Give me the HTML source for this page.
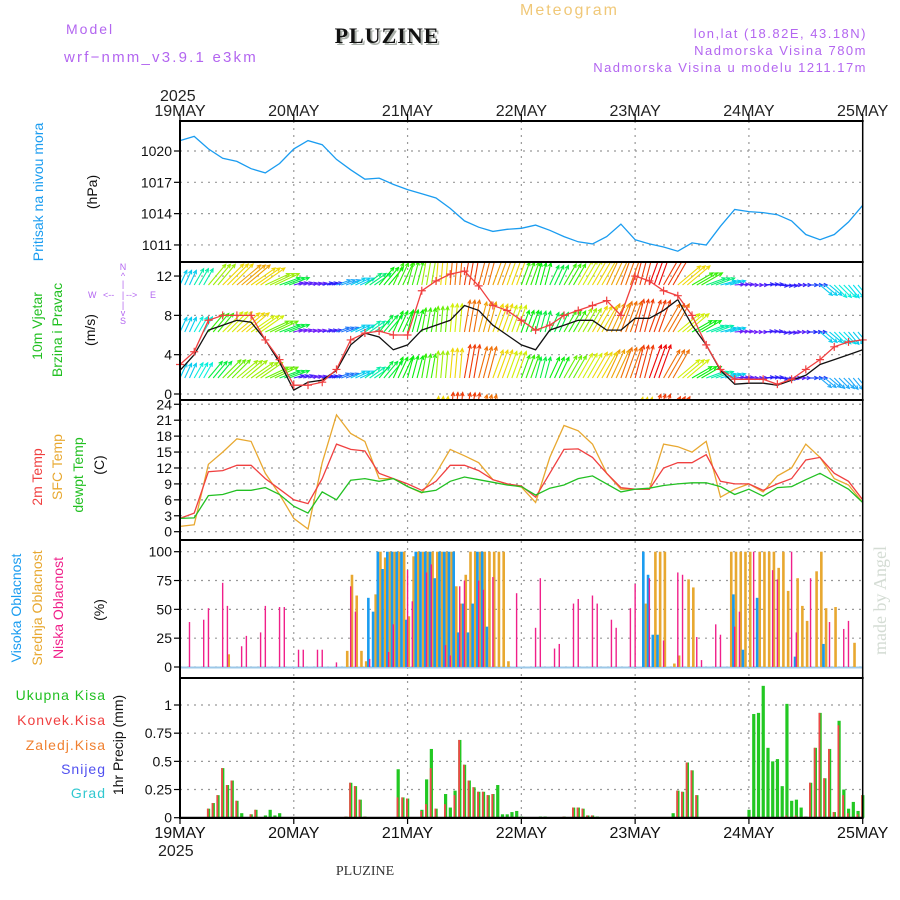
<!DOCTYPE html>
<html><head><meta charset="utf-8">
<style>
html,body{margin:0;padding:0;background:#fff;}
svg{display:block;}
text{font-family:"Liberation Sans",sans-serif;}
text.serif{font-family:"Liberation Serif",serif;}
</style></head>
<body>
<svg id="chart" width="900" height="900" viewBox="0 0 900 900" xmlns="http://www.w3.org/2000/svg">
<defs>
<clipPath id="windClip"><rect x="181" y="263" width="681" height="136"/></clipPath>
</defs>
<g id="header">
<text x="66" y="34" font-size="14" fill="#b366f0" letter-spacing="2">Model</text>
<text x="64" y="62" font-size="15" fill="#b366f0" letter-spacing="2.2">wrf−nmm_v3.9.1 e3km</text>
<text class="serif" x="389" y="45" font-size="22" font-weight="bold" fill="#aab0aa" text-anchor="middle" letter-spacing="1">PLUZINE</text>
<text class="serif" x="387" y="43" font-size="22" font-weight="bold" fill="#111" text-anchor="middle" letter-spacing="1">PLUZINE</text>
<text x="520" y="15" font-size="16" fill="#f0c878" letter-spacing="2">Meteogram</text>
<text x="867" y="38" font-size="13" fill="#b366f0" text-anchor="end" letter-spacing="1.5">lon,lat (18.82E, 43.18N)</text>
<text x="867" y="55" font-size="13" fill="#b366f0" text-anchor="end" letter-spacing="1.5">Nadmorska Visina 780m</text>
<text x="867" y="72" font-size="13" fill="#b366f0" text-anchor="end" letter-spacing="1.5">Nadmorska Visina u modelu 1211.17m</text>
<text x="160" y="101" font-size="16" fill="#222">2025</text>
<text x="158" y="856" font-size="16" fill="#222">2025</text>
<text class="serif" x="365" y="875" font-size="14" fill="#333" text-anchor="middle">PLUZINE</text>
<text class="serif" transform="translate(886,655) rotate(-90)" font-size="18" fill="#d4dcd4">made by Angel</text>
</g>
<g id="labels" font-size="14">
<text transform="translate(43,192) rotate(-90)" text-anchor="middle" fill="#1a9cf0">Pritisak na nivou mora</text>
<text transform="translate(97,192) rotate(-90)" text-anchor="middle" fill="#111">(hPa)</text>
<text transform="translate(42,326) rotate(-90)" text-anchor="middle" fill="#22c022">10m Vjetar</text>
<text transform="translate(62,330) rotate(-90)" text-anchor="middle" fill="#22c022">Brzina i Pravac</text>
<text transform="translate(95,330) rotate(-90)" text-anchor="middle" fill="#111">(m/s)</text>
<g fill="#b366f0" font-size="9">
<text x="123" y="270" text-anchor="middle">N</text>
<text x="123" y="279" text-anchor="middle">^</text>
<text x="123" y="287" text-anchor="middle">|</text>
<text x="88" y="298">W</text>
<text x="103" y="298">&lt;--</text>
<text x="123" y="298" text-anchor="middle">|</text>
<text x="126" y="298">--&gt;</text>
<text x="150" y="298">E</text>
<text x="123" y="308" text-anchor="middle">|</text>
<text x="123" y="316" text-anchor="middle">v</text>
<text x="123" y="324" text-anchor="middle">S</text>
</g>
<text transform="translate(42,477) rotate(-90)" text-anchor="middle" fill="#f04040">2m Temp</text>
<text transform="translate(62,467) rotate(-90)" text-anchor="middle" fill="#e8a830">SFC Temp</text>
<text transform="translate(83,475) rotate(-90)" text-anchor="middle" fill="#22c022">dewpt Temp</text>
<text transform="translate(104,465) rotate(-90)" text-anchor="middle" fill="#111">(C)</text>
<text transform="translate(21,608) rotate(-90)" text-anchor="middle" fill="#1a9cf0">Visoka Oblacnost</text>
<text transform="translate(42,608) rotate(-90)" text-anchor="middle" fill="#e8a830">Srednja Oblacnost</text>
<text transform="translate(63,608) rotate(-90)" text-anchor="middle" fill="#f0208a">Niska Oblacnost</text>
<text transform="translate(104,610) rotate(-90)" text-anchor="middle" fill="#111">(%)</text>
<text x="106" y="700" text-anchor="end" fill="#22c022" letter-spacing="1">Ukupna  Kisa</text>
<text x="106" y="725" text-anchor="end" fill="#f04040" letter-spacing="1">Konvek.Kisa</text>
<text x="106" y="750" text-anchor="end" fill="#f08030" letter-spacing="1">Zaledj.Kisa</text>
<text x="106" y="774" text-anchor="end" fill="#5050f0" letter-spacing="1">Snijeg</text>
<text x="106" y="798" text-anchor="end" fill="#30c8d0" letter-spacing="1">Grad</text>
<text transform="translate(123,745) rotate(-90)" text-anchor="middle" fill="#111">1hr Precip (mm)</text>
</g>
<g id="grid"></g>
<g id="marks"></g>
<g id="axes"></g>
</svg>
<script>
const dayLabels=["19MAY","20MAY","21MAY","22MAY","23MAY","24MAY","25MAY"];
const pressure=[1021.0,1021.4,1020.2,1019.3,1019.0,1018.3,1017.9,1018.8,1020.2,1021.0,1020.6,1019.2,1018.2,1017.3,1017.4,1016.8,1016.3,1015.9,1015.5,1014.5,1013.3,1012.7,1012.3,1012.5,1012.6,1012.9,1012.4,1011.8,1011.3,1011.1,1011.8,1013.0,1011.5,1011.1,1010.8,1010.4,1011.2,1011.0,1012.8,1014.4,1014.2,1014.1,1013.9,1013.3,1012.0,1011.5,1012.0,1013.2,1014.8];
const pressureTicks=[1011,1014,1017,1020];
const windSpeed=[2.4,4,6.5,7,7.5,7.3,5.5,3.2,0.4,1.2,1.4,2.4,5,6.2,5.8,4.5,5,6.5,7,7.5,9,8.5,7,6,5,4.5,6.5,7,7.5,7.5,6.5,6.5,7.7,7.7,8.5,9.6,7,5,2.4,1,1.1,1.1,0.9,1.4,1.9,3,3.5,4,4.5];
const windGust=[3,4.3,7.5,8,8,8,5.5,3.5,0.9,0.9,1.2,2.5,5.5,6.2,6.4,6,6,10.5,11.5,12.2,12.5,11,9,8.5,7.5,6.5,7,8,8.5,9,9.5,8,12,11.5,10.5,10,8,5,2.5,1.5,1.5,1.5,1,1.5,2.5,3.5,4.8,5.3,5.5];
const windTicks=[0,4,8,12];
const windDir=[65,60,50,45,40,35,25,20,15,12,12,20,25,35,50,65,75,80,85,85,80,75,70,70,70,75,65,60,60,60,65,70,75,70,60,40,30,20,15,5,0,5,-5,0,0,-40,-45,-50,-50];
const arrowTopSpd=[3,4,7,8,8.5,8,7,5,0.5,0.5,1,2.5,3,4.5,5.5,6,6,7,8,9,9.5,9,8.5,8,6,5.5,5,6,7.5,8,8.5,9,9.5,10,9.5,8,6,4.5,3,0.5,0.5,1,1,0.8,1.5,3,3.5,3.2,3];
const arrowMidSpd=[3,3.5,6,7.5,8,7.5,6.5,5,0.3,0.3,0.8,2,3,4,5,5.5,5.5,6,6.5,7.5,9,8.5,8,7.5,5.5,5,5,6,7,8,8.5,9,9.5,9.5,9,7.5,5.5,4,3,0.3,0.3,0.8,0.8,0.5,1.2,3,3.2,3,3];
const arrowBotSpd=[3,3.5,5,6.5,7,7,6.5,5,0.8,0.5,1,2,3,4,5,5.5,5.5,6,7,8,9.5,9,8,7.5,6,5,5.5,6.5,7.5,8,8.5,9,9.5,10,9,7.5,5.5,4,3,0.5,0.5,1,1,0.5,1.5,2.5,2.5,2.5,2.5];
const arrowLowSpd=[0,0,0,0,0,0,0,0,0,0,0,0,0,0,0,0,0,5,8,9.5,9.5,9,7,5,0,0,5,6,7,8,0,0,8,9.5,9.5,7,0,0,0,0,0,0,0,0,0,0,0,0,0];
const temp2m=[2.5,3.5,11.3,11.5,12.5,12.5,10,8,6,5.3,10,16.5,15.5,15.2,11,10,9,7.8,9.5,12.5,12.5,11.5,9.8,9,8.6,6.5,11,15.5,15.6,14,11,8.3,8,8,12,13,13,14.5,9.5,9,9,7.8,9,10,13.5,14,11,9.5,6];
const tempSfc=[1,1.3,12.7,15,17.5,17,11,7,2.5,0.5,13,22,18.5,17,10,10,8.5,7.3,11,15.5,14.3,13,9.8,9,8.4,5.5,14,20,19,16.5,11,8,8,8,16.5,16,15,17,6.5,8,9,7.5,10.5,12,16.5,14,10,8.8,5.5];
const tempDew=[2.5,2.6,6.8,7,7.8,7.8,8.3,7,4.8,3.5,7.5,6,9.7,10,9.5,10,8.5,7.4,7.8,9.5,10.3,9.8,9.3,8.8,8.5,6.9,8.2,8.8,10,10.5,9,7.5,8,8.2,8.7,9,9.2,9.2,8.5,7,8,6.7,8.3,8.5,9.8,11,9.5,8,5.5];
const tempTicks=[0,3,6,9,12,15,18,21,24];
const lowCloudHours=[2,5,6,9,10,13,14,17,18,21,22,25,26,29,30,33,36,37,40,44,45,48,49,52,53,56,57,59,60,63,64,66,71,75,76,79,80,83,84,87,88,91,92,95,96,99,102,105,106,109,110,113,114,117,118,121,125,126,129,130,133,137,140,141];
const lowCloudVals=[39,41,51,73,53,18,27,30,53,52,52,15,15,15,15,4,70,48,7,13,37,84,57,82,89,19,10,70,75,75,67,78,64,34,77,16,20,55,59,62,55,41,34,51,72,77,23,82,80,26,6,37,28,35,48,100,84,76,100,30,77,39,33,40];
const midCloudHours=[10,35,36,37,38,39,41,42,43,44,45,46,47,48,49,50,51,52,53,54,55,56,57,58,59,60,61,62,63,64,65,66,67,68,69,98,100,101,102,104,105,107,108,116,117,118,119,120,122,123,124,125,126,127,128,130,131,132,134,135,136,138,142];
const midCloudVals=[11,14,80,62,14,5,63,100,95,100,100,100,100,44,96,100,100,100,100,100,100,100,100,70,55,80,100,100,100,100,100,100,100,100,5,55,100,100,100,3,10,76,69,100,100,100,100,100,100,100,100,100,86,100,66,77,53,40,83,100,51,52,21];
const highCloudHours=[40,41,42,43,44,45,46,47,48,50,51,52,53,54,55,56,57,58,59,60,61,62,63,64,65,98,99,100,101,117,119,122,130,136];
const highCloudVals=[60,48,100,85,100,100,100,100,41,100,100,100,100,77,100,100,100,100,30,55,30,55,100,100,35,100,80,28,28,63,15,60,9,20];
const cloudTicks=[0,25,50,75,100];
const precipHours=[6,7,8,9,10,11,12,13,15,16,18,19,20,21,35,36,37,38,39,46,47,48,51,52,53,54,56,57,58,59,60,61,62,63,64,65,66,67,68,69,70,71,72,76,77,81,83,84,85,86,87,88,104,105,106,107,108,109,120,121,122,123,124,125,126,127,128,129,130,131,132,133,134,135,136,137,138,139,140,141,142,143,144];
const precipTotal=[.08,.13,.2,.44,.29,.33,.15,.04,.03,.07,.02,.07,.02,.04,.01,.31,.28,.16,.01,.43,.18,.17,.07,.34,.61,.08,.21,.09,.24,.69,.47,.33,.27,.23,.23,.2,.21,.29,.03,.03,.05,.06,.01,.01,.01,.01,.09,.09,.08,.02,.02,.01,.04,.24,.23,.49,.42,.2,.07,.92,.93,1.17,.62,.5,.52,.28,1.01,.15,.16,.09,.01,.31,.62,.93,.35,.61,.05,.86,.25,.08,.14,.06,.2];
const precipConv=[.08,.13,.2,.44,.29,.33,.15,0,.03,.07,0,0,0,0,.01,.31,.28,.16,.01,.18,.18,.17,.06,.12,.44,.08,.12,0,.2,.69,.47,.33,.27,.23,.23,.2,.21,0,0,0,0,0,0,0,0,.01,.09,.09,.08,.02,.02,0,0,.24,.23,.49,.42,.2,0,0,0,0,0,0,0,0,.02,0,.02,0,.01,.31,.62,.93,.35,.61,.05,.82,.2,.04,0,.03,.2];
const precipTicks=[0,0.25,0.5,0.75,1];
</script>
<script>
const NS="http://www.w3.org/2000/svg";
const X0=180,X1=862.7,HOURS=144;
const xH=h=>X0+h*(X1-X0)/HOURS;
const x3=i=>xH(i*3);
const yP=p=>151+(1020-p)*10.44;
const yW=s=>394-s*9.83;
const yT=t=>531.7-t*5.31;
const yC=v=>667-v*1.153;
const yR=v=>817.7-v*112.7;
const panels=[[121,262],[262,400],[400,540],[540,678],[678,818]];
const grid=document.getElementById('grid'),marks=document.getElementById('marks'),axes=document.getElementById('axes');
function mk(tag,attrs,parent){const e=document.createElementNS(NS,tag);for(const k in attrs)e.setAttribute(k,attrs[k]);parent.appendChild(e);return e;}
function line(x1,y1,x2,y2,st,sw,parent,dash){const a={x1,y1,x2,y2,stroke:st,'stroke-width':sw};if(dash)a['stroke-dasharray']=dash;return mk('line',a,parent);}
function poly(vals,yf,color,name){const pts=vals.map((v,i)=>x3(i).toFixed(1)+','+yf(v).toFixed(1)).join(' ');const p=mk('polyline',{points:pts,fill:'none',stroke:color,'stroke-width':1.3},marks);


return p;}
for(let d=1;d<6;d++){const x=X0+d*(X1-X0)/6;const l=line(x,121,x,818,'#999',1.2,grid,'2,5');

}
function hgrid(ticks,yf,fmt,name){ticks.forEach(t=>{const y=yf(t);const l=line(X0,y,X1,y,'#999',1.2,grid,'2,5');


line(X0-6,y,X0,y,'#000',1.2,axes);
const tx=mk('text',{x:X0-8,y:y+5,'font-size':14,'text-anchor':'end',fill:'#111'},axes);tx.textContent=fmt(t);

});}
hgrid(pressureTicks,yP,t=>t,'pressure');
hgrid(windTicks,yW,t=>t,'wind');
hgrid(tempTicks,yT,t=>t,'temp');
hgrid(cloudTicks,yC,t=>t,'cloud');
hgrid(precipTicks,yR,t=>t===0?'0':(t===1?'1':String(t)),'precip');
poly(pressure,yP,'#1a9cf0','pressure-line');
function hueFor(s){const h=Math.max(0,270-s*27);return 'hsl('+h+',95%,'+(h>200?55:48)+'%)';}
const wg=mk('g',{'clip-path':'url(#windClip)'},marks);


function arrowRow(spd,base,name){spd.forEach((s,i)=>{for(let k=0;k<3;k++){const h=i*3+k;if(h>HOURS)break;if(name==='low'&&s<=0)continue;
const L=8+s*2.7;const a=windDir[i]*Math.PI/180;const x=xH(h),y=base;const x2=x+L*Math.cos(a),y2=y-L*Math.sin(a);const c=hueFor(s);
const g=mk('g',{stroke:c,'stroke-width':1.1,fill:'none'},wg);


mk('line',{x1:x,y1:y,x2:x2,y2:y2},g);
const hl=4,ha=0.45;
mk('polyline',{points:(x2-hl*Math.cos(a-ha))+','+(y2+hl*Math.sin(a-ha))+' '+x2+','+y2+' '+(x2-hl*Math.cos(a+ha))+','+(y2+hl*Math.sin(a+ha))},g);}});}
arrowRow(arrowTopSpd,285,'top');
arrowRow(arrowMidSpd,332,'mid');
arrowRow(arrowBotSpd,378,'bot');
arrowRow(arrowLowSpd,426,'low');
poly(windSpeed,yW,'#111','wind-speed-line');
poly(windGust,yW,'#f04040','wind-gust-line');
windGust.forEach((g,i)=>{const x=x3(i),y=yW(g);const c=mk('path',{d:`M${x-4},${y}H${x+4}M${x},${y-4}V${y+4}`,stroke:'#f04040','stroke-width':1.2},marks);

});
poly(tempSfc,yT,'#e8a830','sfc-temp-line');
poly(temp2m,yT,'#f04040','temp-2m-line');
poly(tempDew,yT,'#22c022','dewpoint-line');
line(X0,yC(0)+0.5,X1,yC(0)+0.5,'#9cc8e8',2,marks);
function cloudBars(hours,vals,color,off,w,name){hours.forEach((h,i)=>{const y=yC(vals[i]);const r=mk('rect',{x:xH(h)+off,y:y,width:w,height:yC(0)-y,fill:color},marks);

});}
cloudBars(midCloudHours,midCloudVals,'#e8a830',0,2.6,'mid-cloud-bar');
cloudBars(highCloudHours,highCloudVals,'#1a9cf0',-2.6,2.6,'high-cloud-bar');
cloudBars(lowCloudHours,lowCloudVals,'#f0208a',-0.7,1.4,'low-cloud-bar');
precipHours.forEach((h,i)=>{const x=xH(h);const y=yR(precipTotal[i]);const r=mk('rect',{x:x-1.5,y:y,width:3.2,height:yR(0)-y,fill:'#22c822'},marks);


if(precipConv[i]>0){const yc=yR(precipConv[i]);const c=mk('rect',{x:x-1.5,y:yc,width:1.8,height:yR(0)-yc,fill:'#f04848'},marks);

}});
line(X0,yR(0),X1,yR(0),'#111',2,axes);
panels.forEach(([a,b],i)=>{line(X0-1,a,X1+1,a,'#000',2,axes);});
line(X0-1,818,X1+1,818,'#000',2,axes);
line(X0,121,X0,819,'#000',2,axes);
line(X1,121,X1,819,'#000',1.5,axes);
dayLabels.forEach((d,i)=>{const x=X0+i*(X1-X0)/6;
line(x,114,x,121,'#000',1.2,axes);
line(x,818,x,824,'#000',1.2,axes);
const t1=mk('text',{x:x,y:116,'font-size':16,'text-anchor':'middle',fill:'#222'},axes);t1.textContent=d;


const t2=mk('text',{x:x,y:838,'font-size':16,'text-anchor':'middle',fill:'#111'},axes);t2.textContent=d;

});
</script>
</body></html>
